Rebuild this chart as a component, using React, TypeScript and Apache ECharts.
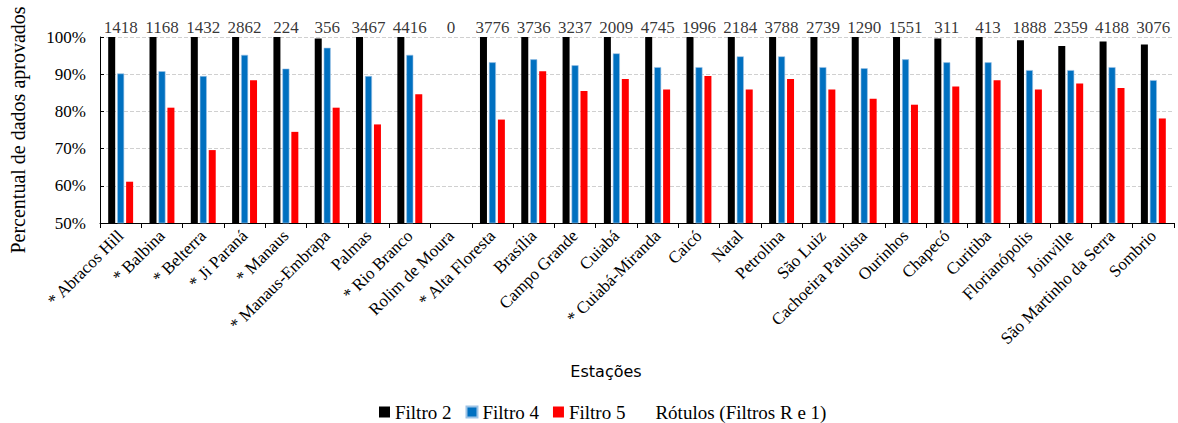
import React, { useEffect, useRef } from "react";
import * as echarts from "echarts";

const categories = [
  "* Abracos Hill", "* Balbina", "* Belterra", "* Ji Paraná", "* Manaus",
  "* Manaus-Embrapa", "Palmas", "* Rio Branco", "Rolim de Moura", "* Alta Floresta",
  "Brasília", "Campo Grande", "Cuiabá", "* Cuiabá-Miranda", "Caicó",
  "Natal", "Petrolina", "São Luiz", "Cachoeira Paulista", "Ourinhos",
  "Chapecó", "Curitiba", "Florianópolis", "Joinville", "São Martinho da Serra", "Sombrio",
];

const filtro2 = [
  100, 100, 100, 100, 100, 99.6, 100, 100, null, 100,
  100, 100, 100, 100, 100, 100, 100, 100, 100, 100,
  99.6, 100, 99.1, 97.6, 98.8, 98.0,
];
const filtro4 = [
  90.2, 90.8, 89.5, 95.2, 91.5, 97.1, 89.5, 95.2, null, 93.2,
  94.0, 92.4, 95.6, 91.9, 91.9, 94.8, 94.8, 91.9, 91.6, 94.0,
  93.2, 93.2, 91.1, 91.1, 91.9, 88.4,
];
const filtro5 = [
  61.1, 81.0, 69.6, 88.4, 74.5, 81.0, 76.5, 84.6, null, 77.8,
  90.8, 85.5, 88.7, 85.9, 89.5, 85.9, 88.7, 85.9, 83.4, 81.8,
  86.7, 88.4, 85.9, 87.5, 86.3, 78.1,
];
const rotulos = [
  1418, 1168, 1432, 2862, 224, 356, 3467, 4416, 0, 3776,
  3736, 3237, 2009, 4745, 1996, 2184, 3788, 2739, 1290, 1551,
  311, 413, 1888, 2359, 4188, 3076,
];

const SERIF = "Liberation Serif";

export default function App() {
  const ref = useRef<HTMLDivElement>(null);
  useEffect(() => {
    if (!ref.current) return;
    const chart = echarts.init(ref.current, null, { renderer: "svg" });
    const barBase = {
      type: "bar" as const,
      barWidth: 7,
      barGap: "28%",
      barCategoryGap: "40%",
    };
    const legendText = { fontFamily: SERIF, fontSize: 19, lineHeight: 20, color: "#000" };
    chart.setOption({
      animation: false,
      backgroundColor: "#ffffff",
      textStyle: { fontFamily: SERIF },
      grid: { left: 98, right: 4, top: 37, height: 186 },
      title: {
        text: "Estações",
        left: 601,
        top: 358,
        textAlign: "center",
        textStyle: { fontFamily: "DejaVu Sans", fontSize: 16, fontWeight: "normal", color: "#000" },
      },
      legend: {
        bottom: 0,
        left: 374,
        padding: [2, 5, 1, 5],
        itemWidth: 11,
        itemHeight: 11,
        itemGap: 14,
        icon: "rect",
        textStyle: legendText,
        data: [
          { name: "Filtro 2", icon: "rect", textStyle: legendText },
          { name: "Filtro 4", icon: "rect", textStyle: legendText },
          { name: "Filtro 5", icon: "rect", textStyle: legendText },
          { name: "Rótulos (Filtros R e 1)", icon: "rect", textStyle: legendText },
        ],
      },
      xAxis: {
        type: "category",
        data: categories,
        axisLine: { lineStyle: { color: "#000", width: 1 } },
        axisTick: { show: true, length: 5, lineStyle: { color: "#000" } },
        axisLabel: {
          rotate: 45,
          interval: 0,
          fontFamily: SERIF,
          fontSize: 17,
          color: "#000",
          margin: 10,
        },
      },
      yAxis: {
        type: "value",
        min: 50,
        max: 100,
        interval: 10,
        name: "Percentual de dados aprovados",
        nameLocation: "middle",
        nameGap: 72,
        nameTextStyle: { fontFamily: SERIF, fontSize: 20, color: "#000" },
        axisLine: { show: true, lineStyle: { color: "#000", width: 1 } },
        axisTick: { show: true, inside: true, length: 4, lineStyle: { color: "#000" } },
        axisLabel: {
          formatter: "{value}%",
          fontFamily: SERIF,
          fontSize: 17,
          color: "#000",
          margin: 14,
        },
        splitLine: { show: true, lineStyle: { color: "#d0d0d0", type: "dashed", width: 1 } },
      },
      series: [
        { ...barBase, name: "Filtro 2", data: filtro2, itemStyle: { color: "#000000" } },
        { ...barBase, name: "Filtro 4", data: filtro4, itemStyle: { color: "#0070C0", borderColor: "#9dc3e6", borderWidth: 0.6 } },
        { ...barBase, name: "Filtro 5", data: filtro5, itemStyle: { color: "#FF0000" } },
        {
          type: "scatter",
          name: "Rótulos (Filtros R e 1)",
          data: rotulos.map(() => 100),
          symbolSize: 0,
          itemStyle: { color: "rgba(0,0,0,0)" },
          label: {
            show: true,
            position: "top",
            distance: 1,
            formatter: (p: any) => String(rotulos[p.dataIndex]),
            fontFamily: SERIF,
            fontSize: 17,
            color: "#000",
          },
          z: 5,
        },
      ],
    });
    return () => chart.dispose();
  }, []);
  return (
    <div
      ref={ref}
      style={{ position: "fixed", left: 0, top: 0, width: 1178, height: 423 }}
    />
  );
}
